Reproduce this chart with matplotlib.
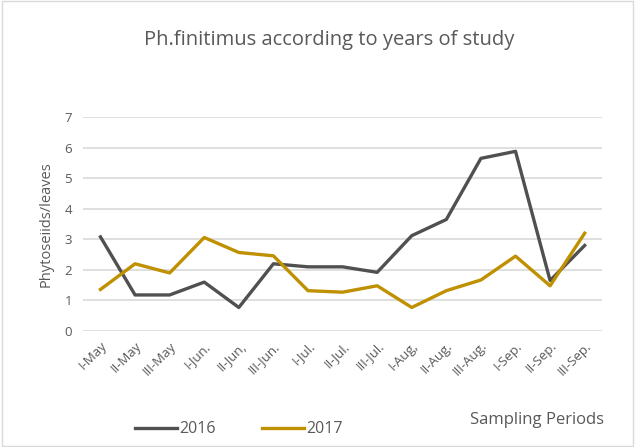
import matplotlib
matplotlib.use("Agg")
import matplotlib.pyplot as plt
from matplotlib.patches import Rectangle

# Data
periods = ["I-May", "II-May", "III-May", "I-Jun.", "II-Jun,", "III-Jun.", "I-Jul.",
           "II-Jul.", "III-Jul.", "I-Aug,", "II-Aug.", "III-Aug.", "I-Sep.", "II-Sep.", "III-Sep."]
y2016 = [3.08, 1.18, 1.18, 1.6, 0.77, 2.2, 2.1, 2.1, 1.92, 3.12, 3.65, 5.65, 5.88, 1.65, 2.8]
y2017 = [1.36, 2.2, 1.9, 3.06, 2.57, 2.46, 1.32, 1.27, 1.48, 0.77, 1.32, 1.67, 2.45, 1.48, 3.2]

TEXT = "#595959"
GRID = "#d9d9d9"

plt.rcParams["font.family"] = ["Open Sans", "DejaVu Sans"]

fig = plt.figure(figsize=(6.35, 4.47), dpi=100)
ax = fig.add_axes([0.131, 0.2595, 0.817, 0.4785])

x = list(range(len(periods)))
ax.plot(x, y2016, color="#505050", lw=2.4, label="2016", solid_joinstyle="round")
ax.plot(x, y2017, color="#bf9000", lw=2.4, label="2017", solid_joinstyle="round")

ax.set_xlim(-0.5, len(periods) - 0.5)
ax.set_ylim(0, 7)
ax.set_yticks(range(8))
ax.set_xticks(x)
ax.set_xticklabels(periods, rotation=45, ha="right", rotation_mode="anchor")
ax.tick_params(axis="both", length=0, labelsize=9.5, colors=TEXT, pad=8)
ax.tick_params(axis="x", pad=6)
ax.grid(axis="y", color=GRID, lw=1.2)
ax.set_axisbelow(True)
for s in ax.spines.values():
    s.set_visible(False)

ax.set_ylabel("Phytoseiids/leaves", fontsize=10.5, color=TEXT, labelpad=8)
fig.text(0.519, 0.91, "Ph.finitimus according to years of study", ha="center",
         va="center", fontsize=14.5, color=TEXT)
fig.text(0.951, 0.06, "Sampling Periods", ha="right", va="center", fontsize=12, color=TEXT)

leg = fig.legend(loc="center left", bbox_to_anchor=(0.213, 0.04), ncol=2, frameon=False,
                 fontsize=11.5, handlelength=2.6, handletextpad=0.15, columnspacing=2.9,
                 labelcolor=TEXT, borderaxespad=0, borderpad=0)

# light border around the whole chart
fig.patches.append(Rectangle((0.003, 0.003), 0.994, 0.994, transform=fig.transFigure,
                             fill=False, edgecolor="#d9d9d9", lw=1))

fig.savefig("out.png", dpi=100)
